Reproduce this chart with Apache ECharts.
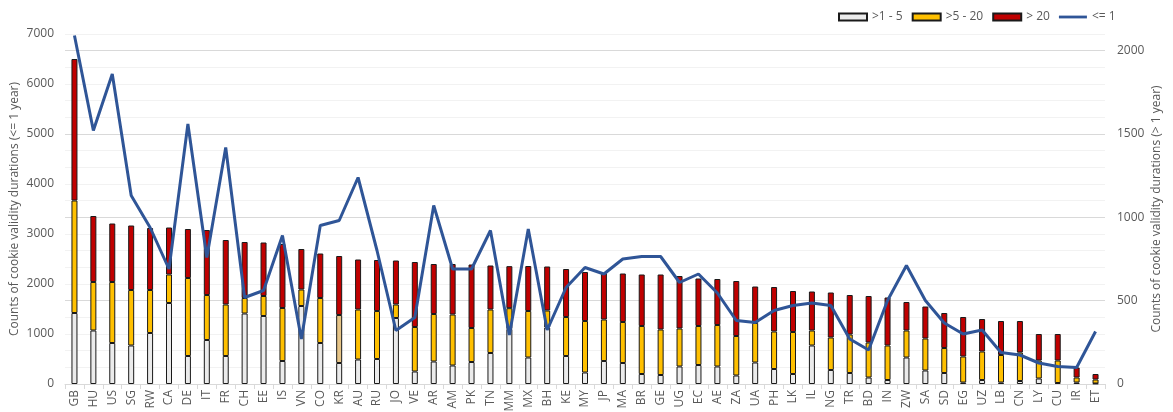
<!DOCTYPE html>
<html>
<head>
<meta charset="utf-8">
<script src="https://cdn.jsdelivr.net/npm/echarts@6/dist/echarts.min.js"></script>
<style>
html, body { margin: 0; padding: 0; background: #fff; }
#echarts_0 { width: 1173px; height: 412px; }
</style>
</head>
<body>
<div id="echarts_0"></div>
<script>
// 国家代码
var countries = ['GB','HU','US','SG','RW','CA','DE','IT','FR','CH','EE','IS','VN','CO','KR','AU','RU','JO','VE','AR',
    'AM','PK','TN','MM','MX','BH','KE','MY','JP','MA','BR','GE','UG','EC','AE','ZA','UA','PH','LK','IL',
    'NG','TR','BD','IN','ZW','SA','SD','EG','UZ','LB','CN','LY','CU','IR','ET'];

// <= 1 year (left axis)
var le1 = [6970, 5070, 6200, 3770, 3130, 2300, 5200, 2530, 4730, 1730, 1870, 2970, 900, 3170, 3270, 4130, 2670, 1070, 1330, 3570,
    2300, 2300, 3070, 980, 3100, 1080, 1930, 2330, 2200, 2500, 2550, 2550, 2030, 2200, 1820, 1270, 1230, 1470, 1570, 1620,
    1570, 900, 680, 1670, 2370, 1670, 1220, 1000, 1080, 630, 580, 420, 350, 330, 1050];

// > 1 year (right axis), stacked
var gt1to5 = [426, 321, 246, 231, 306, 486, 168, 264, 168, 423, 408, 138, 468, 246, 126, 147, 150, 396, 75, 135,
    111, 132, 186, 330, 159, 339, 168, 69, 138, 126, 60, 54, 105, 114, 105, 51, 129, 90, 60, 231,
    84, 66, 39, 24, 159, 81, 66, 9, 24, 9, 18, 33, 6, 9, 3];
var gt5to20 = [675, 291, 366, 333, 258, 171, 468, 270, 309, 93, 120, 318, 99, 270, 288, 300, 288, 81, 267, 285,
    306, 204, 261, 125, 279, 102, 234, 309, 249, 246, 288, 273, 228, 234, 249, 237, 237, 225, 252, 90,
    195, 231, 210, 207, 162, 192, 150, 156, 171, 165, 171, 108, 135, 30, 24];
var gt20 = [849, 396, 351, 387, 372, 282, 294, 390, 387, 336, 321, 384, 243, 267, 354, 300, 306, 264, 390, 300,
    303, 381, 264, 252, 270, 264, 288, 294, 279, 291, 309, 330, 315, 285, 276, 330, 219, 267, 246, 234,
    270, 237, 279, 288, 171, 192, 210, 237, 195, 204, 189, 159, 159, 60, 33];

var textColor = '#595959';
var fontFamily = 'Open Sans';

// KR 的中间段颜色偏浅
var midData = gt5to20.map(function (v, i) {
    if (countries[i] === 'KR') {
        return { value: v, itemStyle: { color: '#e6c487' } };
    }
    return v;
});

var myChart = echarts.init(document.getElementById('echarts_0'));
var option = {
    animation: false,
    textStyle: { fontFamily: fontFamily },
    legend: {
        left: 833,
        top: 6,
        itemWidth: 28,
        itemHeight: 7,
        itemGap: 9,
        textStyle: { color: textColor, fontSize: 12, fontFamily: fontFamily },
        data: [
            { name: '>1 - 5', icon: 'rect' },
            { name: '>5 - 20', icon: 'rect' },
            { name: '> 20', icon: 'rect' },
            { name: '<= 1', icon: 'path://M0,0 L30,0 L30,3 L0,3 Z', itemStyle: { color: '#2f5597', borderWidth: 0 } }
        ]
    },
    grid: {
        left: 65,
        right: 68,
        top: 34,
        bottom: 28,
        containLabel: false,
        outerBoundsMode: 'none'
    },
    xAxis: {
        type: 'category',
        data: countries,
        boundaryGap: true,
        axisLine: { lineStyle: { color: '#d9d9d9' } },
        axisTick: { show: true, length: 5, lineStyle: { color: '#d9d9d9' } },
        axisLabel: {
            rotate: 90,
            interval: 0,
            margin: 6,
            color: textColor,
            fontSize: 12,
            fontFamily: fontFamily
        }
    },
    yAxis: [
        {
            type: 'value',
            min: 0,
            max: 7000,
            interval: 1000,
            position: 'left',
            name: 'Counts of cookie validity durations (<= 1 year)',
            nameLocation: 'middle',
            nameGap: 44,
            nameMoveOverlap: false,
            nameTextStyle: { color: textColor, fontSize: 12, fontFamily: fontFamily },
            axisLine: { show: false },
            axisTick: { show: false },
            splitLine: { show: false },
            axisLabel: {
                color: textColor,
                fontSize: 12,
                margin: 11,
                fontFamily: fontFamily,
                formatter: function (v) { return String(v); }
            }
        },
        {
            type: 'value',
            min: 0,
            max: 2100,
            interval: 100,
            position: 'right',
            name: 'Counts of cookie validity durations (> 1 year)',
            nameLocation: 'middle',
            nameGap: 46,
            nameMoveOverlap: false,
            nameRotate: 90,
            nameTextStyle: { color: textColor, fontSize: 12, fontFamily: fontFamily },
            axisLine: { show: false },
            axisTick: { show: false },
            splitLine: {
                show: true,
                lineStyle: { color: ['#d9d9d9', '#f2f2f2', '#f2f2f2', '#f2f2f2', '#f2f2f2'], width: 1 }
            },
            axisLabel: {
                color: textColor,
                fontSize: 12,
                margin: 12,
                fontFamily: fontFamily,
                formatter: function (v) {
                    return (v % 500 === 0) ? String(v) : '';
                }
            }
        }
    ],
    series: [
        {
            name: '>1 - 5',
            type: 'bar',
            stack: 'gt1',
            yAxisIndex: 1,
            barWidth: 6,
            itemStyle: { color: '#ebebeb', borderColor: '#1a1a1a', borderWidth: 1 },
            data: gt1to5
        },
        {
            name: '>5 - 20',
            type: 'bar',
            stack: 'gt1',
            yAxisIndex: 1,
            barWidth: 6,
            itemStyle: { color: '#ffc000', borderColor: '#1a1a1a', borderWidth: 1 },
            data: midData
        },
        {
            name: '> 20',
            type: 'bar',
            stack: 'gt1',
            yAxisIndex: 1,
            barWidth: 6,
            itemStyle: { color: '#c00000', borderColor: '#1a1a1a', borderWidth: 1 },
            data: gt20
        },
        {
            name: '<= 1',
            type: 'line',
            yAxisIndex: 0,
            symbol: 'none',
            lineStyle: { color: '#2f5597', width: 3 },
            itemStyle: { color: '#2f5597' },
            data: le1
        }
    ]
};
myChart.setOption(option);
</script>
</body>
</html>
